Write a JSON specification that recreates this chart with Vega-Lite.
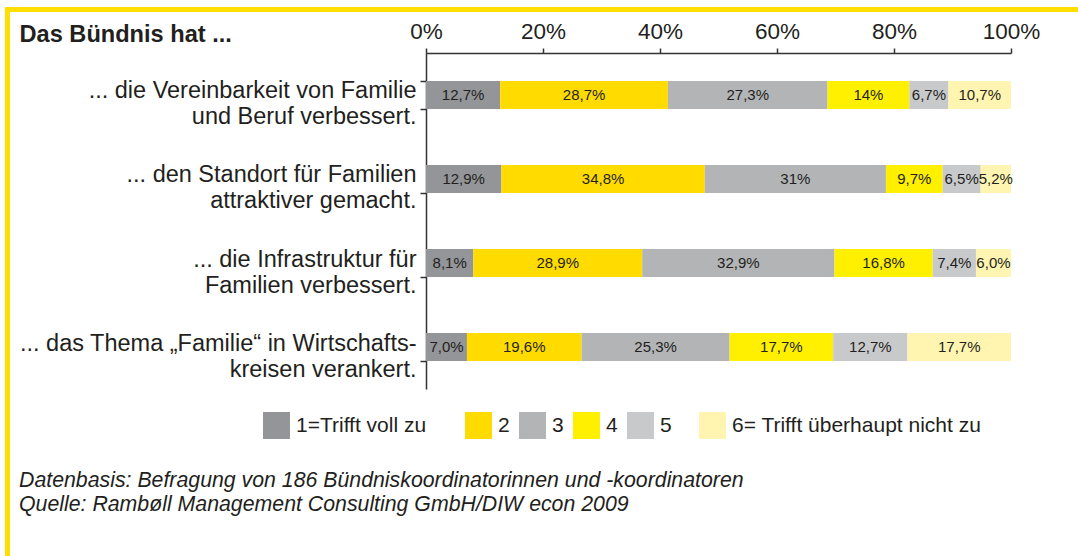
{
  "$schema": "https://vega.github.io/schema/vega-lite/v6.json",
  "padding": {"left": 5, "top": 7, "right": 0, "bottom": 0},
  "autosize": {"type": "pad"},
  "background": "white",
  "config": {
    "font": "Liberation Sans",
    "view": {"stroke": null},
    "axis": {"grid": false}
  },
  "datasets": {
    "survey": [
      {"q": "... die Vereinbarkeit von Familie|und Beruf verbessert.", "k": 1, "a": "1=Trifft voll zu", "v": 12.7, "lab": "12,7%"},
      {"q": "... die Vereinbarkeit von Familie|und Beruf verbessert.", "k": 2, "a": "2", "v": 28.7, "lab": "28,7%"},
      {"q": "... die Vereinbarkeit von Familie|und Beruf verbessert.", "k": 3, "a": "3", "v": 27.3, "lab": "27,3%"},
      {"q": "... die Vereinbarkeit von Familie|und Beruf verbessert.", "k": 4, "a": "4", "v": 14, "lab": "14%"},
      {"q": "... die Vereinbarkeit von Familie|und Beruf verbessert.", "k": 5, "a": "5", "v": 6.7, "lab": "6,7%"},
      {"q": "... die Vereinbarkeit von Familie|und Beruf verbessert.", "k": 6, "a": "6= Trifft überhaupt nicht zu", "v": 10.7, "lab": "10,7%"},
      {"q": "... den Standort für Familien|attraktiver gemacht.", "k": 1, "a": "1=Trifft voll zu", "v": 12.9, "lab": "12,9%"},
      {"q": "... den Standort für Familien|attraktiver gemacht.", "k": 2, "a": "2", "v": 34.8, "lab": "34,8%"},
      {"q": "... den Standort für Familien|attraktiver gemacht.", "k": 3, "a": "3", "v": 31, "lab": "31%"},
      {"q": "... den Standort für Familien|attraktiver gemacht.", "k": 4, "a": "4", "v": 9.7, "lab": "9,7%"},
      {"q": "... den Standort für Familien|attraktiver gemacht.", "k": 5, "a": "5", "v": 6.5, "lab": "6,5%"},
      {"q": "... den Standort für Familien|attraktiver gemacht.", "k": 6, "a": "6= Trifft überhaupt nicht zu", "v": 5.2, "lab": "5,2%"},
      {"q": "... die Infrastruktur für|Familien verbessert.", "k": 1, "a": "1=Trifft voll zu", "v": 8.1, "lab": "8,1%"},
      {"q": "... die Infrastruktur für|Familien verbessert.", "k": 2, "a": "2", "v": 28.9, "lab": "28,9%"},
      {"q": "... die Infrastruktur für|Familien verbessert.", "k": 3, "a": "3", "v": 32.9, "lab": "32,9%"},
      {"q": "... die Infrastruktur für|Familien verbessert.", "k": 4, "a": "4", "v": 16.8, "lab": "16,8%"},
      {"q": "... die Infrastruktur für|Familien verbessert.", "k": 5, "a": "5", "v": 7.4, "lab": "7,4%"},
      {"q": "... die Infrastruktur für|Familien verbessert.", "k": 6, "a": "6= Trifft überhaupt nicht zu", "v": 6.0, "lab": "6,0%"},
      {"q": "... das Thema „Familie“ in Wirtschafts-|kreisen verankert.", "k": 1, "a": "1=Trifft voll zu", "v": 7.0, "lab": "7,0%"},
      {"q": "... das Thema „Familie“ in Wirtschafts-|kreisen verankert.", "k": 2, "a": "2", "v": 19.6, "lab": "19,6%"},
      {"q": "... das Thema „Familie“ in Wirtschafts-|kreisen verankert.", "k": 3, "a": "3", "v": 25.3, "lab": "25,3%"},
      {"q": "... das Thema „Familie“ in Wirtschafts-|kreisen verankert.", "k": 4, "a": "4", "v": 17.7, "lab": "17,7%"},
      {"q": "... das Thema „Familie“ in Wirtschafts-|kreisen verankert.", "k": 5, "a": "5", "v": 12.7, "lab": "12,7%"},
      {"q": "... das Thema „Familie“ in Wirtschafts-|kreisen verankert.", "k": 6, "a": "6= Trifft überhaupt nicht zu", "v": 17.7, "lab": "17,7%"}
    ]
  },
  "spacing": 0,
  "hconcat": [
    {
      "width": 5, "height": 549,
      "view": {"fill": "#FFDE00", "stroke": null},
      "data": {"values": []},
      "mark": "point",
      "encoding": {}
    },
    {
      "spacing": 8,
      "vconcat": [
        {
          "width": 1068, "height": 5,
          "view": {"fill": "#FFDE00", "stroke": null},
          "data": {"values": []},
          "mark": "point",
          "encoding": {}
        },
        {
          "spacing": 8,
          "hconcat": [
            {
              "width": 1, "height": 1,
              "view": {"stroke": null},
              "data": {"values": []},
              "mark": "point",
              "encoding": {}
            },
            {
              "width": 585,
              "height": 336,
              "data": {"name": "survey"},
              "title": {
                "text": ["Datenbasis: Befragung von 186 Bündniskoordinatorinnen und -koordinatoren", "Quelle: Rambøll Management Consulting GmbH/DIW econ 2009"],
                "orient": "bottom", "anchor": "start", "frame": "bounds",
                "fontSize": 21.3, "fontStyle": "italic", "fontWeight": "normal",
                "color": "#231f20", "lineHeight": 24, "offset": 81
              },
              "layer": [
                {
                  "mark": {"type": "bar"},
                  "encoding": {
                    "y": {
                      "field": "q", "type": "nominal",
                      "sort": ["... die Vereinbarkeit von Familie|und Beruf verbessert.", "... den Standort für Familien|attraktiver gemacht.", "... die Infrastruktur für|Familien verbessert.", "... das Thema „Familie“ in Wirtschafts-|kreisen verankert."],
                      "scale": {"paddingInner": 0.667, "paddingOuter": 0.333},
                      "axis": {
                        "title": null,
                        "labelExpr": "split(datum.label, '|')",
                        "labelFontSize": 23.5, "labelLineHeight": 26, "labelColor": "#231f20",
                        "labelLimit": 0, "labelPadding": 4, "labelOffset": -4,
                        "tickBand": "extent", "tickSize": 6, "tickColor": "#333333", "tickWidth": 1.5,
                        "domainColor": "#333333", "domainWidth": 1.5
                      }
                    },
                    "x": {
                      "field": "v", "type": "quantitative", "stack": "normalize",
                      "scale": {"domain": [0, 1]},
                      "axis": {
                        "orient": "top",
                        "values": [0, 0.2, 0.4, 0.6, 0.8, 1],
                        "format": ".0%",
                        "labelFlush": false,
                        "labelFontSize": 22.5, "labelColor": "#231f20", "labelPadding": 5,
                        "tickSize": 5, "tickColor": "#333333", "tickWidth": 1.5,
                        "domainColor": "#333333", "domainWidth": 1.5,
                        "title": "Das Bündnis hat ...",
                        "titleX": -407, "titleY": -12, "titleAlign": "left", "titleBaseline": "alphabetic",
                        "titleFontSize": 23.6, "titleFontWeight": "bold", "titleColor": "#231f20"
                      }
                    },
                    "color": {
                      "field": "a", "type": "nominal",
                      "scale": {
                        "domain": ["1=Trifft voll zu", "2", "3", "4", "5", "6= Trifft überhaupt nicht zu"],
                        "range": ["#939598", "#FFDB00", "#B2B4B6", "#FFF000", "#C8C9CB", "#FFF5B0"]
                      },
                      "legend": {
                        "title": null, "orient": "none", "direction": "horizontal",
                        "legendX": 258, "legendY": 405,
                        "symbolType": "square", "symbolSize": 729, "symbolStrokeWidth": 0,
                        "labelFontSize": 21, "labelColor": "#231f20", "labelOffset": 6,
                        "labelLimit": 0,
                        "columnPadding": 9,
                        "labelExpr": "datum.label == '1=Trifft voll zu' ? '1=Trifft voll zu\u00a0\u00a0\u00a0\u00a0\u00a0\u200b' : datum.label == '5' ? '5\u00a0\u00a0\u00a0\u200b' : datum.label"
                      }
                    },
                    "order": {"field": "k", "type": "quantitative"}
                  }
                },
                {
                  "mark": {"type": "text", "fontSize": 15, "color": "#231f20"},
                  "encoding": {
                    "y": {
                      "field": "q", "type": "nominal",
                      "sort": ["... die Vereinbarkeit von Familie|und Beruf verbessert.", "... den Standort für Familien|attraktiver gemacht.", "... die Infrastruktur für|Familien verbessert.", "... das Thema „Familie“ in Wirtschafts-|kreisen verankert."]
                    },
                    "x": {"field": "v", "type": "quantitative", "stack": "normalize", "bandPosition": 0.5},
                    "detail": {"field": "a"},
                    "order": {"field": "k", "type": "quantitative"},
                    "text": {"field": "lab"}
                  }
                }
              ]
            }
          ]
        }
      ]
    }
  ]
}
